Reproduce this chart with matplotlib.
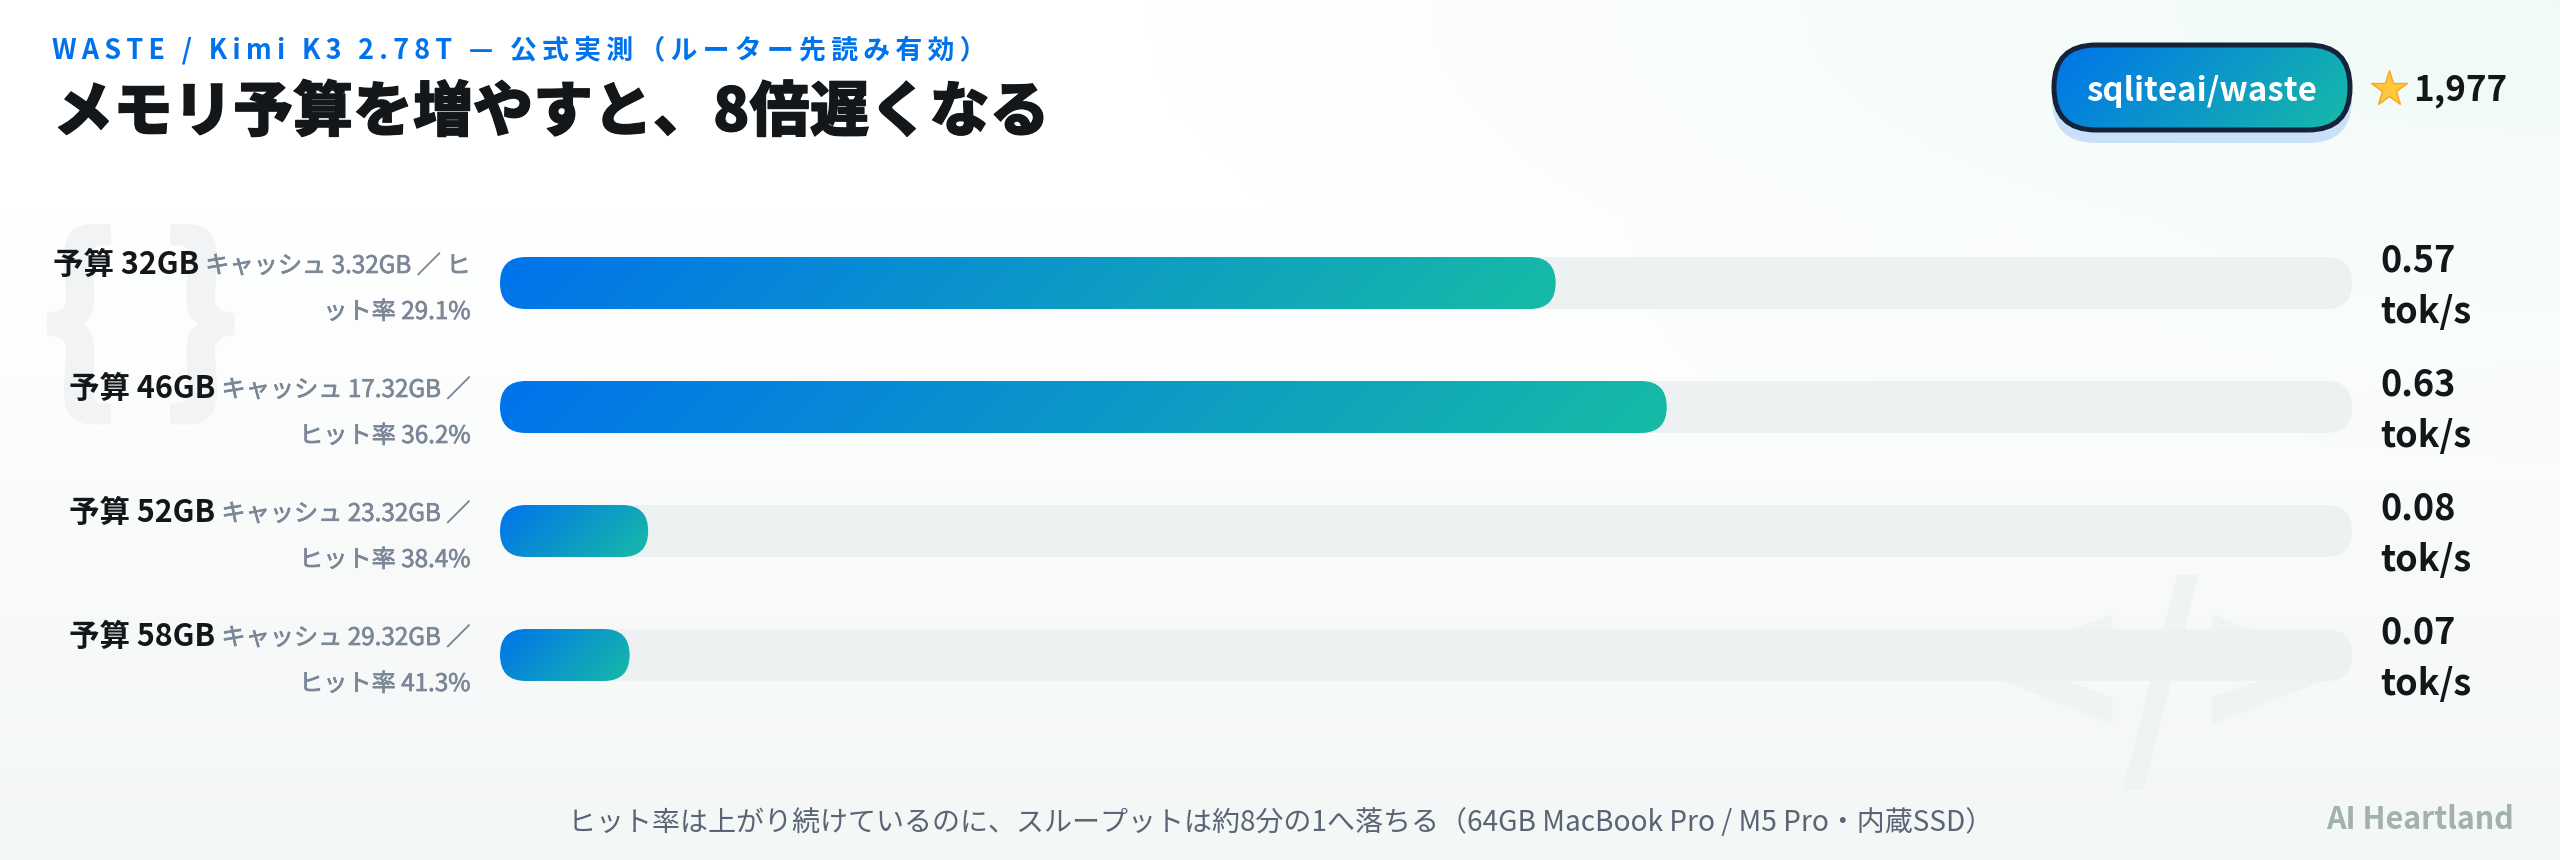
import numpy as np
import matplotlib
matplotlib.use('Agg')
import matplotlib.pyplot as plt
import matplotlib.patheffects as pe
from matplotlib.colors import LinearSegmentedColormap
from matplotlib.patches import FancyBboxPatch

plt.rcParams['font.family'] = ['Noto Sans CJK JP', 'DejaVu Sans']

# data
budgets = ['予算 32GB', '予算 46GB', '予算 52GB', '予算 58GB']
detail_top = ['キャッシュ 3.32GB ／ ヒ', 'キャッシュ 17.32GB ／', 'キャッシュ 23.32GB ／', 'キャッシュ 29.32GB ／']
detail_bottom = ['ット率 29.1%', 'ヒット率 36.2%', 'ヒット率 38.4%', 'ヒット率 41.3%']
speeds = [0.57, 0.63, 0.08, 0.07]
axis_max = 1.0

eyebrow = 'WASTE / Kimi K3 2.78T — 公式実測（ルーター先読み有効）'
title = 'メモリ予算を増やすと、8倍遅くなる'
footer = 'ヒット率は上がり続けているのに、スループットは約8分の1へ落ちる（64GB MacBook Pro / M5 Pro・内蔵SSD）'
repo = 'sqliteai/waste'
stars = '1,977'
brand = 'AI Heartland'

W, H = 2560, 860
BLUE, TEAL, INK = '#0073ec', '#17bba6', '#14171a'
GREY = '#7b8798'
grad = LinearSegmentedColormap.from_list('grad', [BLUE, TEAL])
px = 72 / 100  # font points per pixel at dpi 100
medium = [pe.withStroke(linewidth=0.5, foreground=GREY)]  # no medium weight installed


def spaced(s):
    # hair spaces stand in for css letter-spacing
    return '\u200a\u200a'.join(s)


def diagonal(w, h):
    # css linear-gradient(135deg) over a w x h box
    xx, yy = np.meshgrid(np.arange(w) + 0.5, np.arange(h) + 0.5)
    return (xx + yy) / (w + h)


fig = plt.figure(figsize=(W / 100, H / 100), dpi=100)

# page background, soft mint corners on white
bg = fig.add_axes([0, 0, 1, 1], zorder=0)
bg.axis('off')
xx, yy = np.meshgrid(np.linspace(0, 1, 256), np.linspace(0, 1, 86))
corner = np.clip(1 - np.hypot((1 - xx) / 0.55, yy / 0.55), 0, 1)
bottom = np.clip((yy - 0.25) / 0.75, 0, 1)
base = np.array([255, 255, 255], float)
img = np.ones((86, 256, 3)) * base
img += corner[..., None] * (np.array([240, 250, 246]) - base)
img += bottom[..., None] * (np.array([243, 247, 246]) - base)
bg.imshow(img / 255, extent=[0, W, H, 0], aspect='auto', interpolation='bilinear')
bg.set_xlim(0, W)
bg.set_ylim(H, 0)

# big faint glyphs behind the chart
brace_style = dict(fontsize=200 * px, fontweight='bold', color='#f1f3f4', ha='center', va='center',
                   path_effects=[pe.withStroke(linewidth=4, foreground='#f1f3f4')])
bg.text(80, 329, '{', **brace_style)
bg.text(201, 329, '}', **brace_style)
bg.text(2162, 688, '</>', fontsize=218 * px, fontweight='bold',
        color='#f0f3f3', ha='center', va='center')

# bars
ax = fig.add_axes([500 / W, 1 - 717 / H, 1852 / W, 496 / H], zorder=1)
ax.axis('off')
ax.patch.set_alpha(0)

bar_h = 52 / 124
aspect = (1 / 124) / (axis_max / 1852)
rounding = 26 * axis_max / 1852
rows = np.arange(len(speeds))
for row, value in zip(rows, speeds):
    track = FancyBboxPatch((0, row - bar_h / 2), axis_max, bar_h,
                           boxstyle=f'round,pad=0,rounding_size={rounding}',
                           mutation_aspect=aspect, fc='#eef1f2', ec='none', zorder=1)
    ax.add_patch(track)
    clip = FancyBboxPatch((0, row - bar_h / 2), value, bar_h,
                          boxstyle=f'round,pad=0,rounding_size={rounding}',
                          mutation_aspect=aspect, fc='none', ec='none', transform=ax.transData)
    ax.add_patch(clip)
    w_px = int(round(value / axis_max * 1852))
    im = ax.imshow(diagonal(w_px, 52), cmap=grad, vmin=0, vmax=1, aspect='auto', zorder=2,
                   extent=[0, value, row + bar_h / 2, row - bar_h / 2], interpolation='bilinear')
    im.set_clip_path(clip)
ax.set_xlim(0, axis_max)
ax.set_ylim(3.5, -0.5)

# overlay in pixel coordinates for the text
top = fig.add_axes([0, 0, 1, 1], zorder=2)
top.set_xlim(0, W)
top.set_ylim(H, 0)
top.axis('off')
top.patch.set_alpha(0)

top.text(52, 50, spaced(eyebrow), fontsize=26.9 * px, fontweight='bold', color=BLUE, va='center')
top.text(53, 113, title, fontsize=60 * px, fontweight='black', color=INK, va='center',
         path_effects=[pe.withStroke(linewidth=0.8, foreground=INK)])

fig.canvas.draw()
renderer = fig.canvas.get_renderer()
for i, row in enumerate(rows):
    y = 266 + 124 * row
    t = top.text(471, y, detail_top[i], fontsize=24.2 * px, color=GREY, ha='right', va='center', path_effects=medium)
    x0 = t.get_window_extent(renderer).x0
    top.text(x0 - 6, y - 1, budgets[i], fontsize=30.5 * px, fontweight='bold', color=INK, ha='right', va='center')
    top.text(471, y + 46, detail_bottom[i], fontsize=24.2 * px, color=GREY, ha='right', va='center', path_effects=medium)
    top.text(2380, y - 5, f'{speeds[i]:.2f}', fontsize=36 * px, fontweight='bold', color=INK, va='center')
    top.text(2380, y + 47, 'tok/s', fontsize=36 * px, fontweight='bold', color=INK, va='center')

# repo pill with offset shadow
shadow = FancyBboxPatch((2052, 55), 300, 88, boxstyle='round,pad=0,rounding_size=44', fc='#c9e0f8', ec='none', zorder=1)
top.add_patch(shadow)
pill = FancyBboxPatch((2054, 45), 296, 85, boxstyle='round,pad=0,rounding_size=42', fc='none', ec='none', zorder=2)
top.add_patch(pill)
pill_im = top.imshow(diagonal(296, 85), cmap=grad, vmin=0, vmax=1, aspect='auto', zorder=2,
                     extent=[2054, 2350, 130, 45], interpolation='bilinear')
pill_im.set_clip_path(pill)
top.add_patch(FancyBboxPatch((2054, 45), 296, 85, boxstyle='round,pad=0,rounding_size=42',
                             fc='none', ec='#14233a', lw=5 * px, zorder=3))
top.set_xlim(0, W)
top.set_ylim(H, 0)
top.text(2202, 92, repo, fontsize=33 * px, fontweight='bold', color='white', ha='center', va='center', zorder=4)
top.plot([2389], [89], marker='*', ms=38 * px, mfc='#ffc83d', mec='#f5a623', mew=1, zorder=4)
top.text(2413, 90, stars, fontsize=35 * px, fontweight='bold', color=INK, va='center', zorder=4)

top.text(1281, 823, footer, fontsize=28 * px, color='#5a6475', ha='center', va='center')
top.text(2514, 820, brand, fontsize=30.5 * px, fontweight='bold', color='#a2b1ae', ha='right', va='center')

fig.savefig('out.png', dpi=100)
